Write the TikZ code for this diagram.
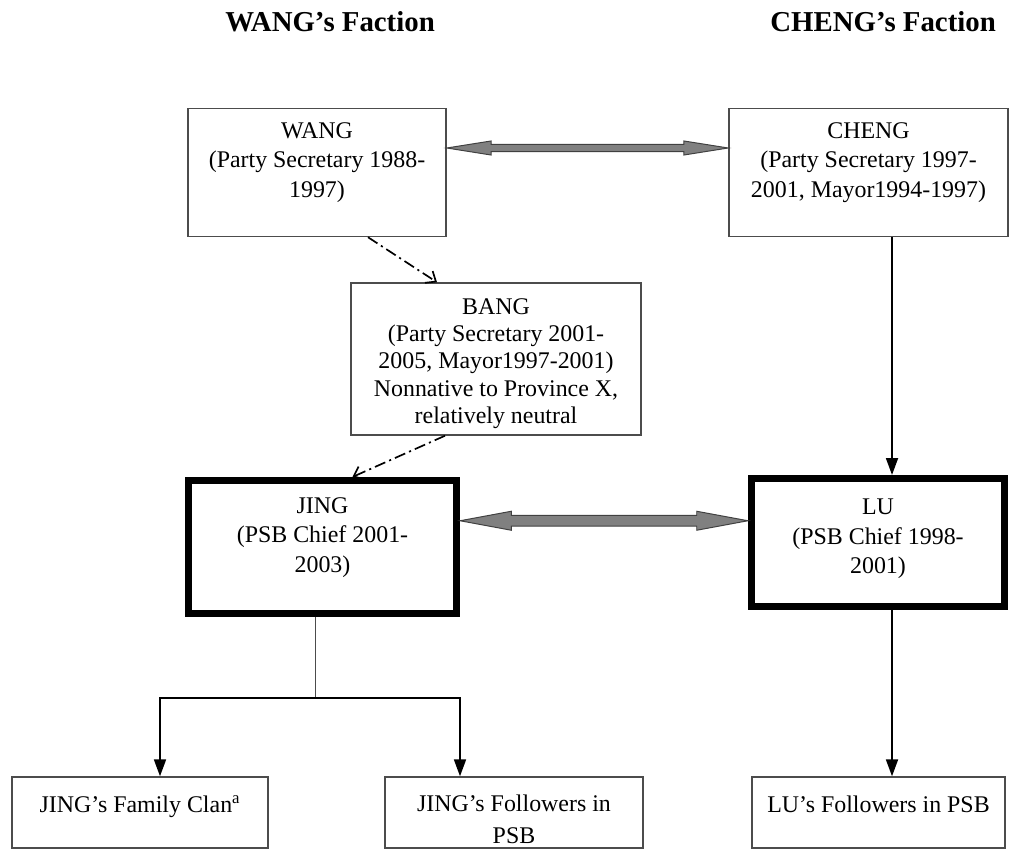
\documentclass[tikz,border=0pt]{standalone}
\usepackage{fontspec}
\setmainfont{Liberation Serif}
\usetikzlibrary{arrows.meta,positioning,calc,shapes.arrows}

\begin{document}
\begin{tikzpicture}[x=0.025cm,y=-0.025cm,
    box/.style={draw=black!70,line width=1pt,align=center,inner sep=0pt,
                font=\fontsize{17}{21}\selectfont},
    chief/.style={box,draw=black,line width=5pt},
    head/.style={font=\fontsize{20.5}{24}\selectfont\bfseries,inner sep=0pt},
    link/.style={-{Triangle[length=12pt,width=8.5pt]},line width=1.3pt},
    plain/.style={line width=0.7pt,draw=black!70},
    hint/.style={line width=1.2pt,dash pattern=on 8pt off 3pt on 1.5pt off 3pt,
                 -{Straight Barb[length=6pt,width=10pt]}},
    tie/.style={double arrow,draw=black!75,fill=black!50,line width=0.7pt,
                inner sep=2.15pt,double arrow head extend=2.5pt,
                double arrow tip angle=18,double arrow head indent=0pt}]
  \useasboundingbox (0,0) rectangle (1010,852);
  \clip (0,0) rectangle (1010,852);

  % faction titles
  \node[head,anchor=base west] (wangf) at (225,32) {WANG’s Faction};
  \node[head,anchor=base west] (chengf) at (770,32) {CHENG’s Faction};

  % party secretaries
  \node[box,minimum width=6.45cm,minimum height=3.2cm,text depth=18pt]
    (wang) at (317,172.5) {WANG\\(Party Secretary 1988-\\1997)};
  \node[box,minimum width=6.975cm,minimum height=3.2cm,text depth=18pt]
    (cheng) at (868.5,172.5) {CHENG\\(Party Secretary 1997-\\2001, Mayor1994-1997)};
  \node[box,minimum width=7.25cm,minimum height=3.8cm,text height=95pt,
        font=\fontsize{17}{19.3}\selectfont]
    (bang) at (496,359) {BANG\\(Party Secretary 2001-\\2005, Mayor1997-2001)\\
                         Nonnative to Province X,\\relatively neutral};

  % PSB chiefs
  \node[chief,minimum width=6.7cm,minimum height=3.325cm,text depth=17pt]
    (jing) at (322.5,547) {JING\\(PSB Chief 2001-\\2003)};
  \node[chief,minimum width=6.325cm,minimum height=3.2cm,text depth=9pt]
    (lu) at (878,542.5) {LU\\(PSB Chief 1998-\\2001)};

  % followers
  \node[box,minimum width=6.4cm,minimum height=1.775cm,text depth=12pt]
    (clan) at (140,812.5) {JING’s Family Clan\textsuperscript{a}};
  \node[box,minimum width=6.45cm,minimum height=1.775cm,text height=44pt,
        font=\fontsize{17}{22.5}\selectfont]
    (jfol) at (514,812.5) {JING’s Followers in\\PSB};
  \node[box,minimum width=6.325cm,minimum height=1.775cm,text depth=12pt]
    (lfol) at (878.5,812.5) {LU’s Followers in PSB};

  % rivalries
  \path let \p1=($(cheng.west)-(wang.east)$) in
    node[tie,minimum height=\x1] (tie1) at ($(wang.east)!0.5!(cheng.west)+(0,-24.5)$) {};
  \path let \p1=($(lu.west)-(jing.east)$) in
    node[tie,inner sep=3.4pt,double arrow head extend=3pt,double arrow tip angle=21,
         minimum height=\x1]
      (tie2) at ($(jing.east)!0.5!(lu.west)+(0,-24)$) {};

  % lines of patronage
  \draw[hint] ($(wang.south)+(51,0)$) -- ($(bang.north)+(-59,0)$);
  \draw[hint] ($(bang.south)+(-51,0)$) -- ($(jing.north)+(30,0)$);

  \coordinate (cl) at ($(cheng.south)+(23.5,0)$);
  \draw[link] (cl) -- (cl |- lu.north);
  \coordinate (ll) at ($(lu.south)+(14,0)$);
  \draw[link] (ll) -- (ll |- lfol.north);

  \coordinate (stem) at ($(jing.south)+(-7.5,0)$);
  \coordinate (split) at ($(stem)+(0,81)$);
  \coordinate (toclan) at ($(clan.north)+(20,0)$);
  \coordinate (tofol) at ($(jfol.north)+(-54,0)$);
  \draw[plain] (stem) -- (split);
  \draw[link] (split) -| (toclan);
  \draw[link] (split) -| (tofol);
\end{tikzpicture}
\end{document}
